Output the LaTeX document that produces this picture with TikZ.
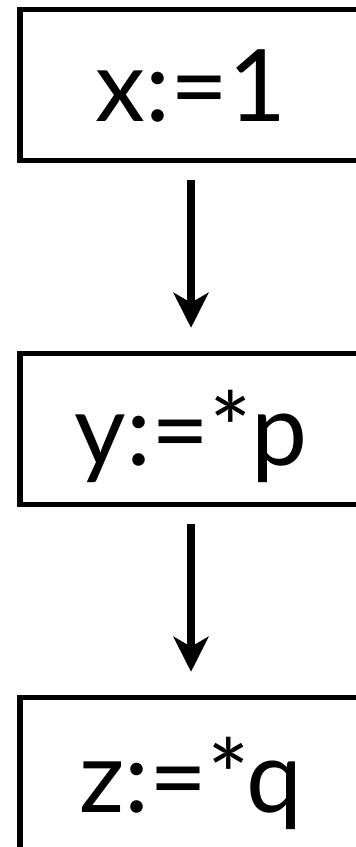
\documentclass[tikz,border=0pt]{standalone}
\usepackage{fontspec}
\setmainfont{Lato}
\usetikzlibrary{arrows.meta,positioning}

\begin{document}
\begin{tikzpicture}[
  x=1pt, y=1pt,
  stmt/.style={draw, line width=5.5pt, minimum width=342pt,
               minimum height=151pt, inner sep=0pt,
               text height=73pt, text depth=0pt,
               font=\fontsize{100}{110}\selectfont},
  flow/.style={-{Stealth[length=35pt, width=35pt, inset=10pt]},
               line width=8pt, shorten <=17pt, shorten >=23pt}
]
  \useasboundingbox (0,0) rectangle (356,-847);
  \node[stmt] (xone) at (191,-85) {x:=1};
  \node[stmt, below=187.5pt of xone]   (yderef) {y:=*p};
  \node[stmt, minimum height=156pt, below=187.5pt of yderef] (zderef) {z:=*q};

  \draw[flow] (xone)   -- (yderef);
  \draw[flow] (yderef) -- (zderef);
\end{tikzpicture}
\end{document}
